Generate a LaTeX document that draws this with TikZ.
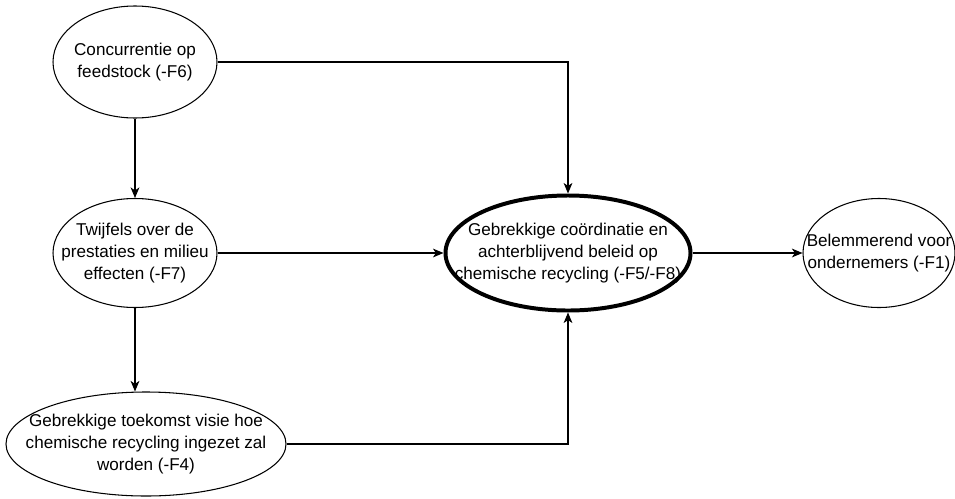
\documentclass[tikz,border=0pt]{standalone}
\usepackage{fontspec}
\setmainfont{Liberation Sans}
\usetikzlibrary{shapes.geometric,arrows.meta}
\begin{document}
\begin{tikzpicture}[x=0.03cm,y=-0.03cm,
	ell/.style={ellipse,draw,line width=0.9pt,inner sep=0pt},
	txt/.style={align=center,inner sep=0pt,font=\fontsize{14.6}{18.8}\selectfont},
	pijl/.style={-{Stealth[length=9pt,width=7.5pt,inset=2.5pt]},line width=0.9pt}]
	\useasboundingbox (0,0) rectangle (955,498);
	% factoren
	\node[ell,minimum width=4.92cm,minimum height=3.36cm] (f6) at (135,62) {};
	\node[txt] (f6t) at (f6) {Concurrentie op\\feedstock (-F6)};
	\node[ell,minimum width=4.92cm,minimum height=3.27cm] (f7) at (135,253) {};
	\node[txt] (f7t) at (f7) {Twijfels over de\\prestaties en milieu\\effecten (-F7)};
	\node[ell,minimum width=8.4cm,minimum height=3.12cm] (f4) at (146,444) {};
	\node[txt] (f4t) at (f4) {Gebrekkige toekomst visie hoe\\chemische recycling ingezet zal\\worden (-F4)};
	\node[ell,line width=3.4pt,minimum width=7.35cm,minimum height=3.45cm] (cen) at (568,253) {};
	\node[txt] (cent) at (cen) {Gebrekkige coördinatie en\\achterblijvend beleid op\\chemische recycling (-F5/-F8)};
	\node[ell,minimum width=4.56cm,minimum height=3.27cm] (f1) at (879,253) {};
	\node[txt] (f1t) at (f1) {Belemmerend voor\\ondernemers (-F1)};
	% pijlen
	\draw[pijl] (f6.east) -| (cen.north);
	\draw[pijl] (f6.south) -- (f7.north);
	\draw[pijl] (f7.east) -- (cen.west);
	\draw[pijl] (f7.south) -- (f7.south |- f4.north);
	\draw[pijl] (f4.east) -| (cen.south);
	\draw[pijl] (cen.east) -- (f1.west);
\end{tikzpicture}
\end{document}
